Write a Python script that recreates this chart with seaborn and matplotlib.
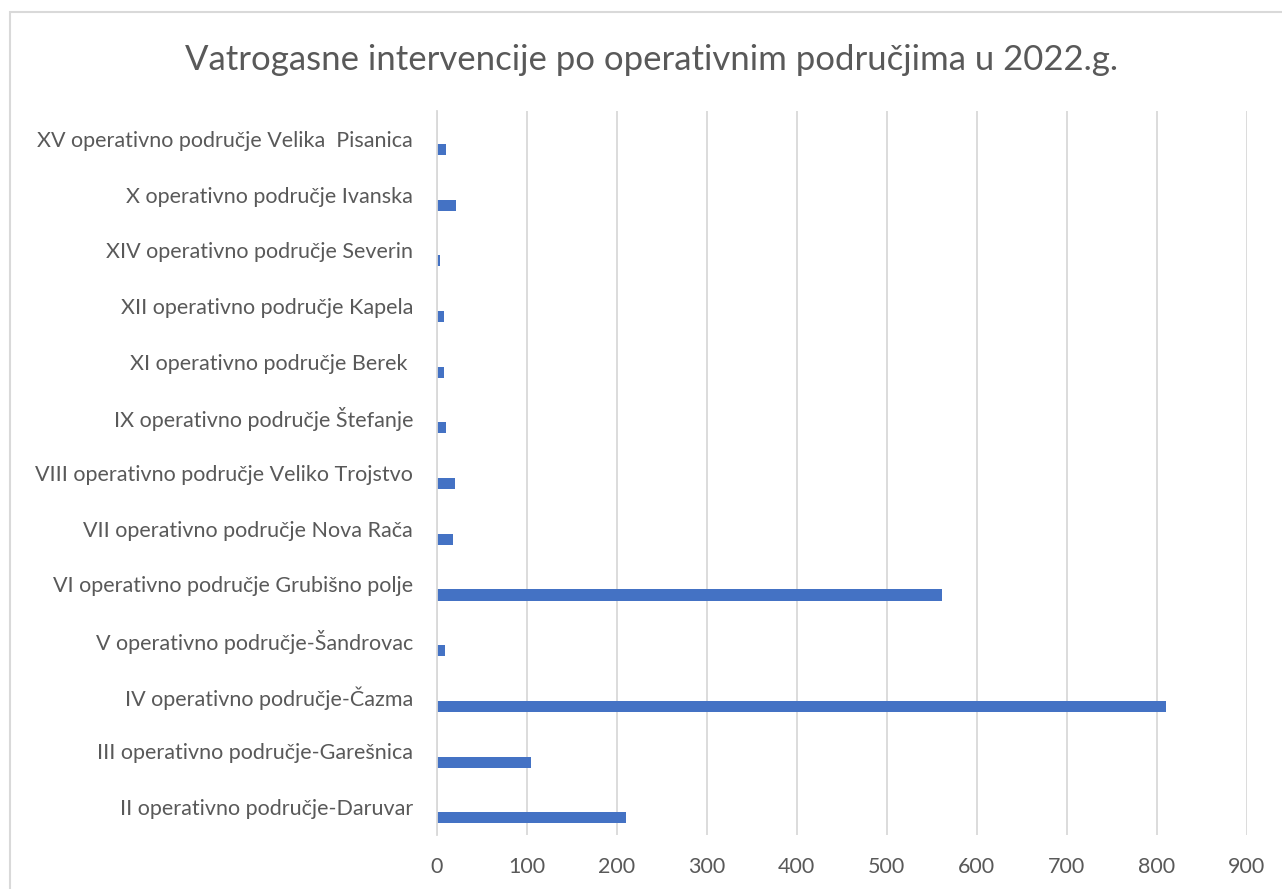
# plot.py
# Horizontal bar chart of fire brigade interventions per operative area (2022).
# Output: out.png

import matplotlib.pyplot as plt
import matplotlib.patches as mpatches
import pandas as pd
import seaborn as sns

# categories listed top to bottom as they appear in the chart
areas = [
    'XV operativno područje Velika  Pisanica',
    'X operativno područje Ivanska',
    'XIV operativno područje Severin',
    'XII operativno područje Kapela',
    'XI operativno područje Berek ',
    'IX operativno područje Štefanje',
    'VIII operativno područje Veliko Trojstvo',
    'VII operativno područje Nova Rača',
    'VI operativno područje Grubišno polje',
    'V operativno područje-Šandrovac',
    'IV operativno područje-Čazma',
    'III operativno područje-Garešnica',
    'II operativno područje-Daruvar',
]
interventions = [10, 22, 4, 8, 8, 10, 20, 18, 561, 9, 810, 105, 210]
x_ticks = [0, 100, 200, 300, 400, 500, 600, 700, 800, 900]

TITLE = 'Vatrogasne intervencije po operativnim područjima u 2022.g.'
BAR_COLOR = '#4472C4'
GRID_COLOR = '#D9D9D9'
TEXT_COLOR = '#595959'
BAR_HEIGHT = 0.20
BAR_SHIFT = 0.19   # Excel draws the bars a bit below the category centre


def main():
    df = pd.DataFrame({'area': areas, 'count': interventions})

    sns.set_theme(style='white')
    plt.rcParams['font.family'] = ['Lato', 'DejaVu Sans']

    fig = plt.figure(figsize=(12.82, 8.89), dpi=100)
    ax = fig.add_axes([0.3406, 0.0607, 0.6318, 0.8144])

    sns.barplot(
        data=df, x='count', y='area', orient='h', ax=ax,
        color=BAR_COLOR, saturation=1, width=BAR_HEIGHT, linewidth=0,
    )
    for bar in ax.patches:
        bar.set_y(bar.get_y() + BAR_SHIFT)

    ax.set_xlim(0, 900)
    ax.set_ylim(len(areas) - 0.5, -0.5)
    ax.set_xticks(x_ticks)
    ax.set_xlabel('')
    ax.set_ylabel('')

    # light vertical gridlines, no frame except the category axis at 0
    ax.xaxis.grid(True, color=GRID_COLOR, linewidth=1.3)
    ax.set_axisbelow(True)
    for side in ['top', 'right', 'bottom']:
        ax.spines[side].set_visible(False)
    ax.spines['left'].set_color(GRID_COLOR)
    ax.spines['left'].set_linewidth(1.3)

    ax.tick_params(axis='x', length=0, pad=16, labelsize=15.5, labelcolor=TEXT_COLOR)
    ax.tick_params(axis='y', length=0, pad=17, labelsize=15.5, labelcolor=TEXT_COLOR)

    fig.text(0.508, 0.932, TITLE, ha='center', va='center',
             fontsize=25, color=TEXT_COLOR)

    # chart-area border (only left and top edges are inside the screenshot)
    border = mpatches.Rectangle(
        (10 / 1282, -0.1), 1.2, 1.1 - 12 / 889,
        transform=fig.transFigure, fill=False,
        edgecolor=GRID_COLOR, linewidth=1.5, clip_on=False,
    )
    fig.patches.append(border)

    fig.savefig('out.png', dpi=100)
    plt.close(fig)
    print("Saved: out.png")


if __name__ == '__main__':
    main()
